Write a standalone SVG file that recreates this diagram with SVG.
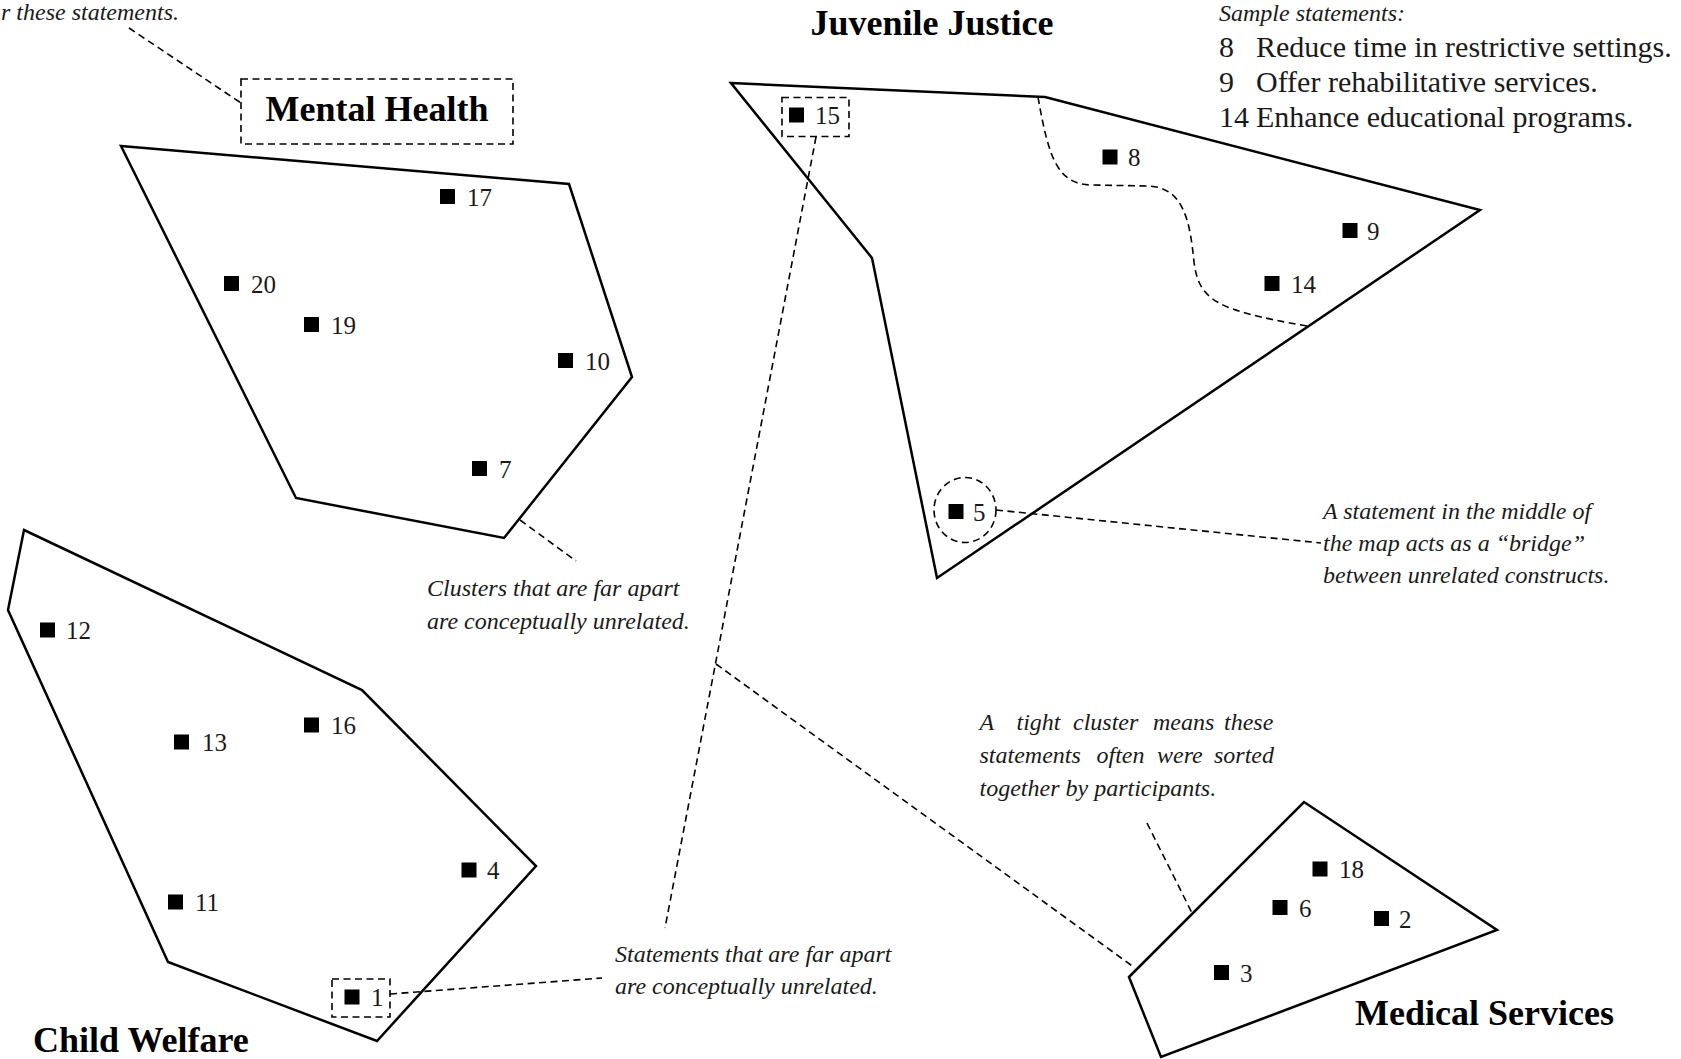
<svg xmlns="http://www.w3.org/2000/svg" width="1681" height="1059" viewBox="0 0 1681 1059">
<style>
  .hull { fill: none; stroke: #000; stroke-width: 2.5; stroke-linejoin: miter; }
  .dash { fill: none; stroke: #000; stroke-width: 1.6; stroke-dasharray: 7 4.5; }
  .pt { fill: #000; }
  .lbl { font-family: "Liberation Serif", "Times New Roman", serif; font-size: 25px; fill: #1a1a1a; }
  .title { font-family: "Liberation Serif", "Times New Roman", serif; font-size: 36px; font-weight: bold; fill: #000; }
  .note { font-family: "Liberation Serif", "Times New Roman", serif; font-size: 24px; font-style: italic; fill: #1a1a1a; }
  .sample { font-family: "Liberation Serif", "Times New Roman", serif; font-size: 30px; fill: #1a1a1a; }
</style>
<rect x="0" y="0" width="1681" height="1059" fill="#fff"/>

<g id="connectors">
  <line class="dash" x1="129" y1="28" x2="241" y2="103"/>
  <line class="dash" x1="520" y1="520" x2="576" y2="561"/>
  <line class="dash" x1="816" y1="137" x2="665" y2="928"/>
  <line class="dash" x1="716" y1="664" x2="1135" y2="968"/>
  <line class="dash" x1="390" y1="994" x2="602" y2="978"/>
  <line class="dash" x1="996" y1="510" x2="1321" y2="543"/>
  <line class="dash" x1="1147" y1="823" x2="1192" y2="913"/>
  <path class="dash" d="M1038 97 C1049 160 1058 185 1093 185 L1148 186 C1184 187 1190 222 1194 262 C1199 300 1215 310 1307 326"/>
</g>

<g id="mental-health">
  <polygon class="hull" points="121,146 569,184 632,377 504,538 296,498"/>
  <rect class="dash" x="241" y="79" width="272" height="65"/>
  <text class="title" x="377" y="121" text-anchor="middle">Mental Health</text>
  <rect class="pt" x="440" y="189" width="15" height="15"/><text class="lbl" x="467" y="206">17</text>
  <rect class="pt" x="224" y="276" width="15" height="15"/><text class="lbl" x="251" y="293">20</text>
  <rect class="pt" x="304" y="317" width="15" height="15"/><text class="lbl" x="331" y="334">19</text>
  <rect class="pt" x="558" y="353" width="15" height="15"/><text class="lbl" x="585" y="370">10</text>
  <rect class="pt" x="472" y="461" width="15" height="15"/><text class="lbl" x="499" y="478">7</text>
</g>

<g id="juvenile-justice">
  <polygon class="hull" points="731,83 1045,97 1480,210 937,578 872,258"/>
  <text class="title" x="932" y="35" text-anchor="middle">Juvenile Justice</text>
  <rect class="dash" x="782" y="97.5" width="67" height="39"/>
  <rect class="pt" x="789" y="107.5" width="15" height="15"/><text class="lbl" x="815" y="124">15</text>
  <rect class="pt" x="1102.5" y="149.5" width="15" height="15"/><text class="lbl" x="1128" y="166">8</text>
  <rect class="pt" x="1342.5" y="223" width="15" height="15"/><text class="lbl" x="1367" y="239.5">9</text>
  <rect class="pt" x="1264.5" y="276" width="15" height="15"/><text class="lbl" x="1291" y="292.5">14</text>
  <ellipse class="dash" cx="965" cy="510" rx="31" ry="32.5"/>
  <rect class="pt" x="948.5" y="504" width="15" height="15"/><text class="lbl" x="973" y="520.5">5</text>
</g>

<g id="child-welfare">
  <polygon class="hull" points="24,530 362,690 536,866 377,1041 168,962 8,610"/>
  <text class="title" x="33" y="1052">Child Welfare</text>
  <rect class="pt" x="40" y="622.5" width="15" height="15"/><text class="lbl" x="66" y="639">12</text>
  <rect class="pt" x="174" y="734.5" width="15" height="15"/><text class="lbl" x="202" y="751">13</text>
  <rect class="pt" x="304" y="717.5" width="15" height="15"/><text class="lbl" x="331" y="734">16</text>
  <rect class="pt" x="461.5" y="862.5" width="15" height="15"/><text class="lbl" x="487" y="879">4</text>
  <rect class="pt" x="168" y="894.5" width="15" height="15"/><text class="lbl" x="195" y="911">11</text>
  <rect class="dash" x="332" y="979" width="58" height="38"/>
  <rect class="pt" x="344.5" y="989.5" width="15" height="15"/><text class="lbl" x="371" y="1006">1</text>
</g>

<g id="medical-services">
  <polygon class="hull" points="1129,977 1304,802 1497,930 1161,1057"/>
  <text class="title" x="1355" y="1025">Medical Services</text>
  <rect class="pt" x="1312.5" y="861.5" width="15" height="15"/><text class="lbl" x="1339" y="878">18</text>
  <rect class="pt" x="1272.5" y="900" width="15" height="15"/><text class="lbl" x="1299" y="916.5">6</text>
  <rect class="pt" x="1374" y="911" width="15" height="15"/><text class="lbl" x="1399" y="927.5">2</text>
  <rect class="pt" x="1214" y="965" width="15" height="15"/><text class="lbl" x="1240" y="981.5">3</text>
</g>

<g id="annotations">
  <text class="note" x="1" y="20">r these statements.</text>
  <text class="note" x="427" y="596">Clusters that are far apart</text>
  <text class="note" x="427" y="629">are conceptually unrelated.</text>
  <text class="note" x="1323" y="519">A statement in the middle of</text>
  <text class="note" x="1323" y="551">the map acts as a “bridge”</text>
  <text class="note" x="1323" y="583">between unrelated constructs.</text>
  <text class="note" y="730"><tspan x="979.5">A</tspan><tspan x="1016.5">tight</tspan><tspan x="1073">cluster</tspan><tspan x="1153">means</tspan><tspan x="1224">these</tspan></text>
  <text class="note" y="763"><tspan x="979.5">statements</tspan><tspan x="1096.5">often</tspan><tspan x="1157">were</tspan><tspan x="1214">sorted</tspan></text>
  <text class="note" x="979.5" y="796">together by participants.</text>
  <text class="note" x="615" y="962">Statements that are far apart</text>
  <text class="note" x="615" y="994">are conceptually unrelated.</text>
</g>

<g id="sample-statements">
  <text class="note" x="1219" y="21">Sample statements:</text>
  <text class="sample" x="1219" y="57">8</text><text class="sample" x="1256" y="57">Reduce time in restrictive settings.</text>
  <text class="sample" x="1219" y="92">9</text><text class="sample" x="1256" y="92">Offer rehabilitative services.</text>
  <text class="sample" x="1219" y="127">14</text><text class="sample" x="1256" y="127">Enhance educational programs.</text>
</g>
</svg>
